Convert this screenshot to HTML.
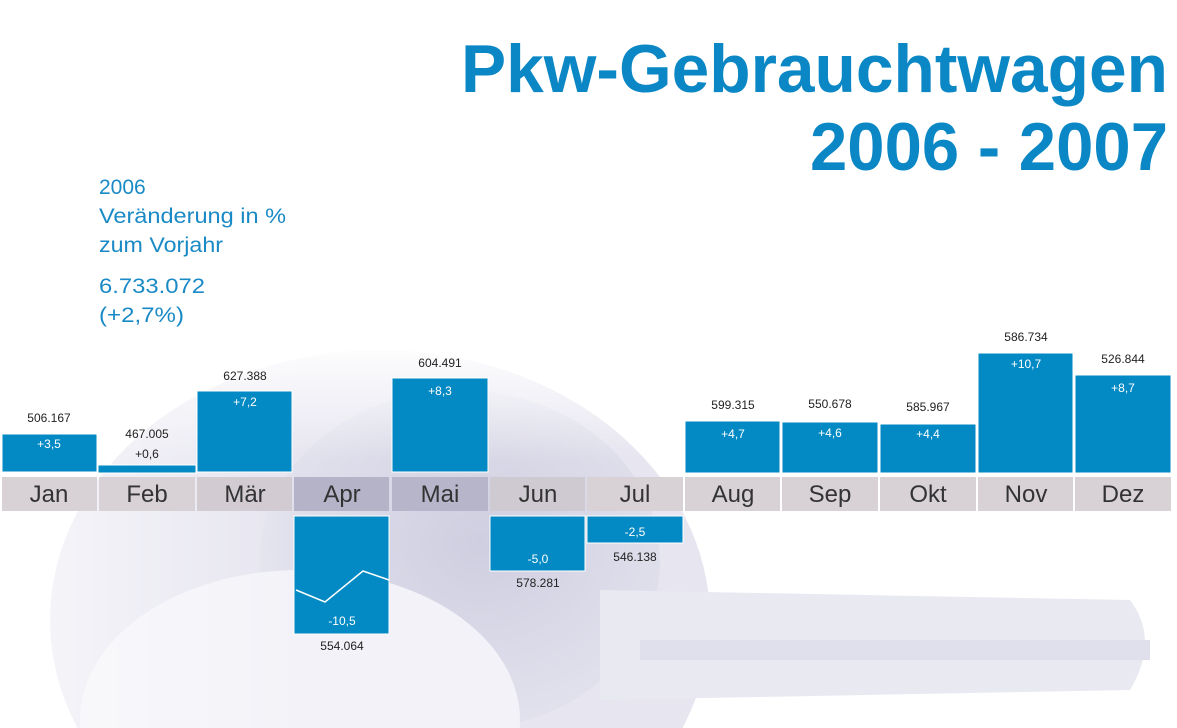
<!DOCTYPE html>
<html><head><meta charset="utf-8"><style>
html,body{margin:0;padding:0;background:#fff;overflow:hidden;width:1177px;height:728px;}
svg{display:block;font-family:"Liberation Sans",sans-serif;}
</style></head><body>
<svg width="1177" height="728" viewBox="0 0 1177 728" xmlns="http://www.w3.org/2000/svg">
<defs>
<radialGradient id="g1" cx="0.55" cy="0.45" r="0.6"><stop offset="0" stop-color="#cfcee0"/><stop offset="1" stop-color="#e4e4ef"/></radialGradient>
<linearGradient id="fade" x1="0" y1="0" x2="1" y2="0"><stop offset="0" stop-color="#fff" stop-opacity="0.7"/><stop offset="1" stop-color="#fff" stop-opacity="0"/></linearGradient>
<linearGradient id="top" x1="0" y1="0" x2="0" y2="1"><stop offset="0" stop-color="#fff" stop-opacity="1"/><stop offset="1" stop-color="#fff" stop-opacity="0"/></linearGradient>
</defs>
<ellipse cx="380" cy="620" rx="330" ry="270" fill="#e6e5f0"/>
<ellipse cx="460" cy="560" rx="200" ry="170" fill="url(#g1)"/>
<ellipse cx="300" cy="720" rx="220" ry="150" fill="#f2f2f8"/>
<path d="M600 590 L1130 600 Q1160 640 1130 690 L600 700 Z" fill="#e9e9f2"/>
<path d="M640 640 L1150 640 L1150 660 L640 660 Z" fill="#e0e0ec"/>
<rect x="0" y="330" width="300" height="398" fill="url(#fade)"/>
<rect x="0" y="340" width="1177" height="120" fill="url(#top)"/>
<g fill="#0a87c4" font-weight="bold" font-size="68">
<text x="461" y="92" textLength="707" lengthAdjust="spacingAndGlyphs">Pkw-Gebrauchtwagen</text>
<text x="810" y="170" textLength="358" lengthAdjust="spacingAndGlyphs">2006 - 2007</text>
</g>
<g fill="#1a8ac6" font-size="21">
<text x="99" y="194">2006</text>
<text x="99" y="223" textLength="187" lengthAdjust="spacingAndGlyphs">Veränderung in %</text>
<text x="99" y="252" textLength="124" lengthAdjust="spacingAndGlyphs">zum Vorjahr</text>
<text x="99" y="293" textLength="106" lengthAdjust="spacingAndGlyphs">6.733.072</text>
<text x="99" y="322" textLength="85" lengthAdjust="spacingAndGlyphs">(+2,7%)</text>
</g>
<g>
<rect x="2" y="477" width="95" height="34" fill="#d8d2d6"/>
<rect x="99" y="477" width="96" height="34" fill="#d8d2d6"/>
<rect x="197" y="477" width="95" height="34" fill="#d2ccd2"/>
<rect x="294" y="477" width="95" height="34" fill="#b5b3c8"/>
<rect x="392" y="477" width="96" height="34" fill="#b7b5ca"/>
<rect x="490" y="477" width="95" height="34" fill="#cfcad2"/>
<rect x="587" y="477" width="96" height="34" fill="#d8d2d6"/>
<rect x="685" y="477" width="95" height="34" fill="#d8d2d6"/>
<rect x="782" y="477" width="96" height="34" fill="#d8d2d6"/>
<rect x="880" y="477" width="96" height="34" fill="#d8d2d6"/>
<rect x="978" y="477" width="95" height="34" fill="#d8d2d6"/>
<rect x="1075" y="477" width="96" height="34" fill="#d8d2d6"/>
</g>
<g fill="#333" font-size="24" text-anchor="middle">
<text x="49" y="502">Jan</text><text x="147" y="502">Feb</text><text x="245" y="502">Mär</text>
<text x="342" y="502">Apr</text><text x="440" y="502">Mai</text><text x="538" y="502">Jun</text>
<text x="635" y="502">Jul</text><text x="733" y="502">Aug</text><text x="830" y="502">Sep</text>
<text x="928" y="502">Okt</text><text x="1026" y="502">Nov</text><text x="1123" y="502">Dez</text>
</g>
<g fill="#0389c3" stroke="#fff" stroke-width="1">
<rect x="2" y="434" width="95" height="38"/>
<rect x="98" y="465" width="98" height="8"/>
<rect x="197" y="391" width="95" height="81"/>
<rect x="294" y="516" width="95" height="118"/>
<rect x="392" y="378" width="96" height="94"/>
<rect x="490" y="516" width="95" height="55"/>
<rect x="587" y="516" width="96" height="27"/>
<rect x="685" y="421" width="95" height="52"/>
<rect x="782" y="422" width="96" height="51"/>
<rect x="880" y="424" width="96" height="49"/>
<rect x="978" y="353" width="95" height="120"/>
<rect x="1075" y="375" width="96" height="98"/>
</g>
<polyline points="296,590 325,602 363,571 389,580" fill="none" stroke="#fff" stroke-width="1.5"/>
<g fill="#fff" font-size="12" text-anchor="middle">
<text x="49" y="448">+3,5</text><text x="245" y="406">+7,2</text>
<text x="342" y="625">-10,5</text><text x="440" y="395">+8,3</text>
<text x="538" y="563">-5,0</text><text x="635" y="536">-2,5</text>
<text x="733" y="438">+4,7</text><text x="830" y="437">+4,6</text>
<text x="928" y="438">+4,4</text><text x="1026" y="368">+10,7</text>
<text x="1123" y="392">+8,7</text>
</g>
<g fill="#222" font-size="12" text-anchor="middle">
<text x="49" y="422">506.167</text><text x="147" y="438">467.005</text>
<text x="147" y="458">+0,6</text><text x="245" y="380">627.388</text>
<text x="342" y="650">554.064</text><text x="440" y="367">604.491</text>
<text x="538" y="587">578.281</text><text x="635" y="561">546.138</text>
<text x="733" y="409">599.315</text><text x="830" y="408">550.678</text>
<text x="928" y="411">585.967</text><text x="1026" y="341">586.734</text>
<text x="1123" y="363">526.844</text>
</g>
</svg>
</body></html>
